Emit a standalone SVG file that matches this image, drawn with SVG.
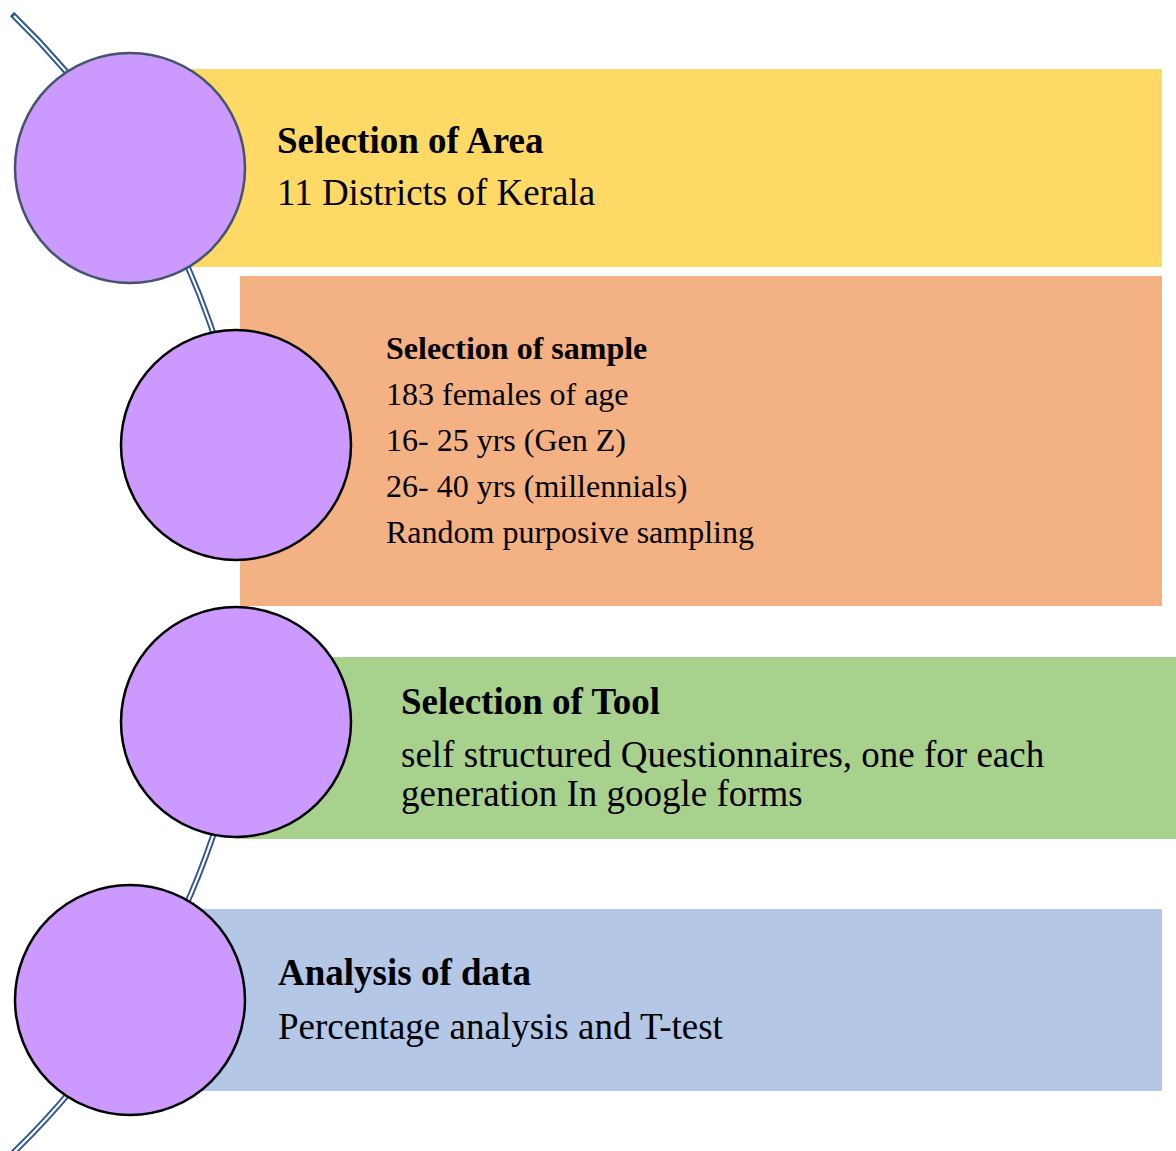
<svg xmlns="http://www.w3.org/2000/svg" width="1176" height="1151" viewBox="0 0 1176 1151">
<style>
.title{font-family:"Liberation Serif","Times New Roman",serif;font-weight:bold;fill:#000}
.body{font-family:"Liberation Serif","Times New Roman",serif;fill:#000}
.s37{font-size:37px}
.s32{font-size:32px}
.node-circle{fill:#CC99FF;stroke:#000;stroke-width:2.5}
.arc-outer{fill:none;stroke:#2F5597;stroke-width:6}
.arc-inner{fill:none;stroke:#FFFFFF;stroke-width:2.2}
</style>
<defs>
  <clipPath id="arcClip">
    <rect x="0" y="0" width="1176" height="600"/>
    <rect x="0" y="600" width="238" height="551"/>
  </clipPath>
</defs>
<rect width="1176" height="1151" fill="#FFFFFF"/>
<g id="connectors" clip-path="url(#arcClip)">
  <path class="arc-outer" d="M12 14 A792.1 792.1 0 0 1 5.7 1160"/>
  <path class="arc-inner" d="M14 16 A792.1 792.1 0 0 1 5.7 1160"/>
</g>
<g id="node-area">
  <rect x="130" y="69" width="1032" height="198" fill="#FFD966"/>
  <circle cx="130" cy="168" r="115" class="node-circle" style="stroke:#44546A"/>
  <text class="title s37" x="277" y="153">Selection of Area</text>
  <text class="body s37" x="277" y="205">11 Districts of Kerala</text>
</g>
<g id="node-sample">
  <rect x="240" y="276" width="922" height="330" fill="#F4B183"/>
  <circle cx="236" cy="445" r="115" class="node-circle"/>
  <text class="title s32" x="386" y="359">Selection of sample</text>
  <text class="body s32" x="386" y="405">183 females of age</text>
  <text class="body s32" x="386" y="451">16- 25 yrs (Gen Z)</text>
  <text class="body s32" x="386" y="497">26- 40 yrs (millennials)</text>
  <text class="body s32" x="386" y="543">Random purposive sampling</text>
</g>
<g id="node-tool">
  <rect x="236" y="657" width="940" height="182" fill="#A9D18E"/>
  <circle cx="236" cy="722" r="115" class="node-circle"/>
  <text class="title s37" x="401" y="714">Selection of Tool</text>
  <text class="body s37" x="401" y="767">self structured Questionnaires, one for each</text>
  <text class="body s37" x="401" y="806">generation In google forms</text>
</g>
<g id="node-analysis">
  <rect x="130" y="909" width="1032" height="182" fill="#B4C7E7"/>
  <circle cx="130" cy="1000" r="115" class="node-circle"/>
  <text class="title s37" x="278" y="985">Analysis of data</text>
  <text class="body s37" x="278" y="1039">Percentage analysis and T-test</text>
</g>
</svg>
